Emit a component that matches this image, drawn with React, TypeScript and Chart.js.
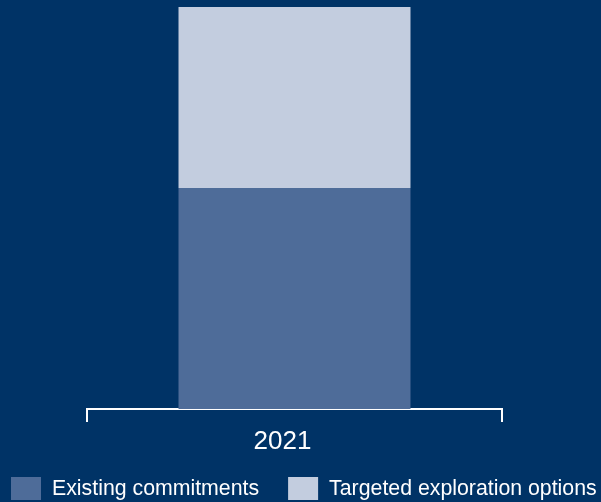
import React, { useEffect, useRef } from "react";
import { Chart, registerables } from "chart.js";

Chart.register(...registerables);

const categories = ["2021"];
const existingCommitments = [55];
const targetedExploration = [45];
const seriesNames = ["Existing commitments", "Targeted exploration options"];

const BG = "#003366";
const DARK = "#4E6C99";
const LIGHT = "#C3CDDF";
const FONT = "Arial, 'Liberation Sans', sans-serif";

const bgPlugin = {
  id: "bg",
  beforeDraw(chart: any) {
    const { ctx, width, height } = chart;
    ctx.save();
    ctx.fillStyle = BG;
    ctx.fillRect(0, 0, width, height);
    ctx.restore();
  },
};

const legendPlugin = {
  id: "customLegend",
  afterDraw(chart: any) {
    const { ctx } = chart;
    ctx.save();
    ctx.font = `21.3px ${FONT}`;
    ctx.textBaseline = "middle";
    ctx.textAlign = "left";
    let x = 11;
    const top = 477;
    const bw = 30;
    const bh = 23;
    chart.data.datasets.forEach((ds: any) => {
      ctx.fillStyle = ds.backgroundColor;
      ctx.fillRect(x, top, bw, bh);
      ctx.fillStyle = "#FFFFFF";
      ctx.fillText(ds.label, x + bw + 11, top + bh / 2 + 1);
      x += bw + 11 + ctx.measureText(ds.label).width + 29;
    });
    ctx.restore();
  },
};

export default function App() {
  const ref = useRef<HTMLCanvasElement>(null);
  useEffect(() => {
    if (!ref.current) return;
    const chart = new Chart(ref.current, {
      type: "bar",
      data: {
        labels: categories,
        datasets: [
          { label: seriesNames[0], data: existingCommitments, backgroundColor: DARK, barPercentage: 0.559, categoryPercentage: 1 },
          { label: seriesNames[1], data: targetedExploration, backgroundColor: LIGHT, barPercentage: 0.559, categoryPercentage: 1 },
        ],
      },
      options: {
        responsive: false,
        animation: false,
        layout: { padding: { left: 87, right: 99, top: 7, bottom: 0 } },
        plugins: { legend: { display: false }, tooltip: { enabled: false } },
        scales: {
          x: {
            stacked: true,
            afterFit: (scale: any) => { scale.height = 93; },
            grid: { offset: true, drawOnChartArea: false, drawTicks: true, tickLength: 13, color: "#FFFFFF", lineWidth: 2 },
            border: { display: true, color: "#FFFFFF", width: 2 },
            ticks: { color: "#FFFFFF", font: { family: FONT, size: 26 }, padding: 4, labelOffset: -12 },
          },
          y: {
            stacked: true,
            display: false,
            min: 0,
            max: 100,
          },
        },
      },
      plugins: [bgPlugin, legendPlugin],
    });
    return () => chart.destroy();
  }, []);
  return (
    <div style={{ position: "fixed", left: 0, top: 0, width: 601, height: 502, background: BG }}>
      <canvas ref={ref} width={601} height={502} style={{ display: "block", width: 601, height: 502 }} />
    </div>
  );
}
